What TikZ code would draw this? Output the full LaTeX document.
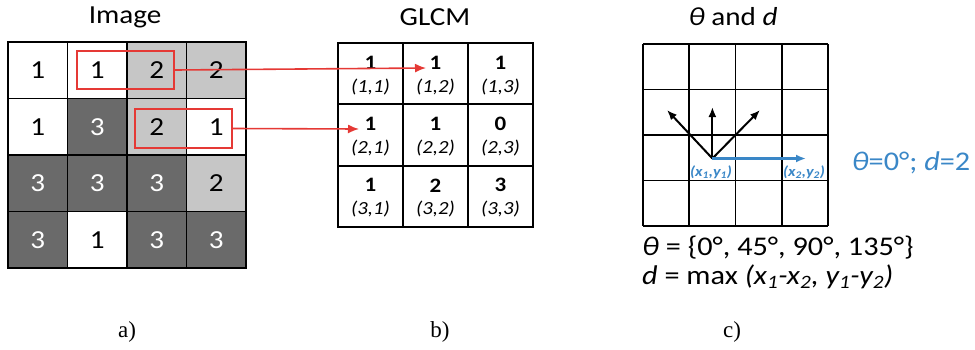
\documentclass[tikz,border=0pt]{standalone}
\usepackage{fontspec}
\setmainfont{Carlito}[FakeStretch=1.12]
\newfontfamily\serif{Liberation Serif}
\usetikzlibrary{arrows.meta}
\definecolor{lg}{HTML}{C6C6C6}
\definecolor{dg}{HTML}{6A6A6A}
\definecolor{rd}{HTML}{E53935}
\definecolor{bl}{HTML}{3A87C7}
\tikzset{
  cell/.style={draw=black, line width=1.8pt, minimum width=59.5pt, minimum height=56.5pt, inner sep=0pt, font=\fontsize{26}{29}\selectfont},
  wc/.style={cell, fill=white, text=black},
  gc/.style={cell, fill=lg, text=black},
  dc/.style={cell, fill=dg, text=white},
  gl/.style={draw=black, line width=1.8pt, minimum width=65pt, minimum height=61.3pt, inner sep=0pt},
  num/.style={font=\fontsize{20.5}{23}\selectfont\bfseries, inner sep=0pt},
  lab/.style={font=\fontsize{18.5}{21}\selectfont\itshape, inner sep=0pt},
  title/.style={font=\fontsize{26}{30}\selectfont, inner sep=0pt},
  sub/.style={font=\serif\fontsize{23}{26}\selectfont, inner sep=0pt},
  redbox/.style={draw=rd, line width=2pt, inner sep=0pt},
  redarrow/.style={draw=rd, line width=1.6pt, -{Latex[length=11pt,width=9pt]}},
  gridline/.style={line width=1.8pt},
  blackarrow/.style={line width=2pt, -{Latex[length=10pt,width=8pt]}},
  bluearrow/.style={draw=bl, line width=2.2pt, -{Latex[length=10pt,width=8pt]}},
  txt/.style={font=\fontsize{27}{31}\selectfont, inner sep=0pt},
  ptlab/.style={text=bl, font=\fontsize{14.5}{16}\selectfont\bfseries\itshape, inner sep=0pt}
}
\begin{document}
\begin{tikzpicture}[x=1pt,y=-1pt]
\useasboundingbox (0,0) rectangle (975,349);
% ---------- a) Image ----------
\node[title] (tImage) at (125,17) {Image};
\node[wc] (a11) at (37.75,70.25) {1};
\node[wc] (a12) at (97.25,70.25) {1};
\node[gc] (a13) at (156.75,70.25) {2};
\node[gc] (a14) at (216.25,70.25) {2};
\node[wc] (a21) at (37.75,126.75) {1};
\node[dc] (a22) at (97.25,126.75) {3};
\node[gc] (a23) at (156.75,126.75) {2};
\node[wc] (a24) at (216.25,126.75) {1};
\node[dc] (a31) at (37.75,183.25) {3};
\node[dc] (a32) at (97.25,183.25) {3};
\node[dc] (a33) at (156.75,183.25) {3};
\node[gc] (a34) at (216.25,183.25) {2};
\node[dc] (a41) at (37.75,239.75) {3};
\node[wc] (a42) at (97.25,239.75) {1};
\node[dc] (a43) at (156.75,239.75) {3};
\node[dc] (a44) at (216.25,239.75) {3};
\node[redbox, minimum width=97pt, minimum height=38pt] (rb1) at (125.5,70) {};
\node[redbox, minimum width=97pt, minimum height=39pt] (rb2) at (183.5,128.5) {};
\node[sub] (la) at (127,332) {a)};
% ---------- b) GLCM ----------
\node[title] (tGLCM) at (435,17) {GLCM};
\foreach \r/\yy in {1/73.7,2/135,3/196.3}{
  \foreach \c/\xx in {1/370.5,2/435.5,3/500.5}{
    \node[gl] (g\r\c) at (\xx,\yy) {};
    \node[lab] (l\r\c) at ([yshift=-13pt]g\r\c.center) {(\r,\c)};
  }
}
\node[num] (n11) at ([yshift=11pt]g11.center) {1};
\node[num] (n12) at ([yshift=11pt]g12.center) {1};
\node[num] (n13) at ([yshift=11pt]g13.center) {1};
\node[num] (n21) at ([yshift=11pt]g21.center) {1};
\node[num] (n22) at ([yshift=11pt]g22.center) {1};
\node[num] (n23) at ([yshift=11pt]g23.center) {0};
\node[num] (n31) at ([yshift=11pt]g31.center) {1};
\node[num] (n32) at ([yshift=11pt]g32.center) {2};
\node[num] (n33) at ([yshift=11pt]g33.center) {3};
\node[sub] (lb) at (440,332) {b)};
\coordinate (t1) at (426,68);
\coordinate (t2) at (359,129);
\draw[redarrow] (rb1.east) -- (t1);
\draw[redarrow] (rb2.east) -- (t2);
% ---------- c) theta and d ----------
\node[title] (tTheta) at (733,17) {{\itshape θ} and {\itshape d}};
\foreach \xx in {643,689.25,735.5,781.75,828}{
  \draw[gridline] (\xx,44) -- (\xx,226);
}
\foreach \yy in {44,89.5,135,180.5,226}{
  \draw[gridline] (643,\yy) -- (828,\yy);
}
\coordinate (O) at (712.4,158.5);
\coordinate (p135) at (667,110);
\coordinate (p90) at (712.4,107);
\coordinate (p45) at (760,110);
\coordinate (p0) at (806,158.5);
\draw[blackarrow] (O) -- (p135);
\draw[blackarrow] (O) -- (p90);
\draw[blackarrow] (O) -- (p45);
\draw[bluearrow] (O) -- (p0);
\node[ptlab] (xy1) at (711,172) {(x\textsubscript{1},y\textsubscript{1})};
\node[ptlab] (xy2) at (804,172) {(x\textsubscript{2},y\textsubscript{2})};
\node[txt, text=bl] (ex) at (911,163) {{\itshape θ}=0°; {\itshape d}=2};
\node[txt, anchor=west] (thetaset) at (642,248) {{\itshape θ} = \{0°, 45°, 90°, 135°\}};
\node[txt, anchor=west] (dmax) at (642,277) {{\itshape d} = max {\itshape (x\textsubscript{1}-x\textsubscript{2}, y\textsubscript{1}-y\textsubscript{2})}};
\node[sub] (lc) at (732,332) {c)};
\end{tikzpicture}
\end{document}
